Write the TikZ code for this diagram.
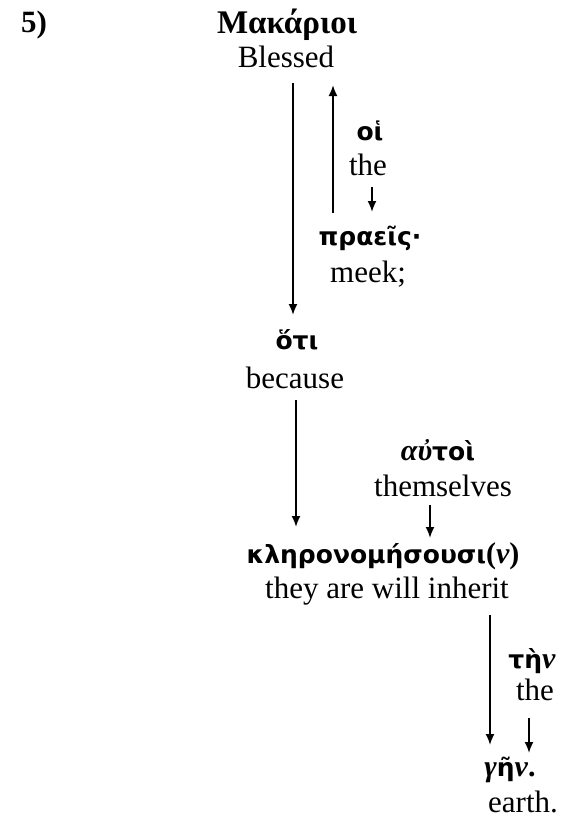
\documentclass[tikz,border=0pt]{standalone}
\usepackage{fontspec}
\setmainfont{Liberation Serif}
\newfontfamily\gkfont{DejaVu Sans}
\newcommand\gki[1]{{\rmfamily\bfseries\itshape\fontsize{30}{36}\selectfont #1}}
\newcommand\gkr[1]{{\rmfamily\bfseries\fontsize{30}{36}\selectfont #1}}
\usetikzlibrary{arrows.meta}
\begin{document}
\begin{tikzpicture}[x=1pt,y=-1pt,
  en/.style={inner sep=0pt,anchor=base,font=\fontsize{31}{36}\selectfont},
  gr/.style={inner sep=0pt,anchor=base,font=\gkfont\bfseries\fontsize{25}{30}\selectfont},
  arr/.style={line width=1.8pt,-{Latex[length=11pt,width=9pt]}}]
\useasboundingbox (0,0) rectangle (567,819);
\node[en] (num) at (34,32) {\textbf{5)}};
\node[en] (mak) at (287,33) {\fontsize{33}{38}\selectfont\textbf{Μακάριοι}};
\node[en] (bl) at (286,67) {Blessed};
\node[gr] (oi) at (370,140) {οἱ};
\node[en] (the1) at (368,175) {the};
\node[gr] (prae) at (370,245) {πραεῖς·};
\node[en] (meek) at (368,282) {meek;};
\node[gr] (oti) at (297,349) {ὅτι};
\node[en] (bec) at (295,388) {because};
\node[gr] (aut) at (438,460) {\gki{αὐ}τοὶ};
\node[en] (them) at (443,496) {themselves};
\node[gr] (kler) at (383,563) {κληρονομήσουσι\gkr{(}\gki{ν}\gkr{)}};
\node[en] (they) at (387,598) {they are will inherit};
\node[gr] (ten) at (532,668) {τὴ\gki{ν}};
\node[en] (the2) at (535,700) {the};
\node[gr] (gen) at (510,776) {\gki{γ}ῆ\gki{ν}\gkr{.}};
\node[en] (earth) at (523,812) {earth.};
\draw[arr,shorten <=16pt,shorten >=34pt] (bl.base -| 293,0) -- (oti.base -| 293,0);
\draw[arr,shorten <=32pt,shorten >=18pt] (prae.base -| 333,0) -- (bl.base -| 333,0);
\draw[arr,shorten <=12pt,shorten >=33pt] (the1.base -| 372,0) -- (prae.base -| 372,0);
\draw[arr,shorten <=12pt,shorten >=36pt] (bec.base -| 296,0) -- (kler.base -| 296,0);
\draw[arr,shorten <=9pt,shorten >=25pt] (them.base -| 430,0) -- (kler.base -| 430,0);
\draw[arr,shorten <=17pt,shorten >=31pt] (they.base -| 490,0) -- (gen.base -| 490,0);
\draw[arr,shorten <=18pt,shorten >=23pt] (the2.base -| 529,0) -- (gen.base -| 529,0);
\end{tikzpicture}
\end{document}
